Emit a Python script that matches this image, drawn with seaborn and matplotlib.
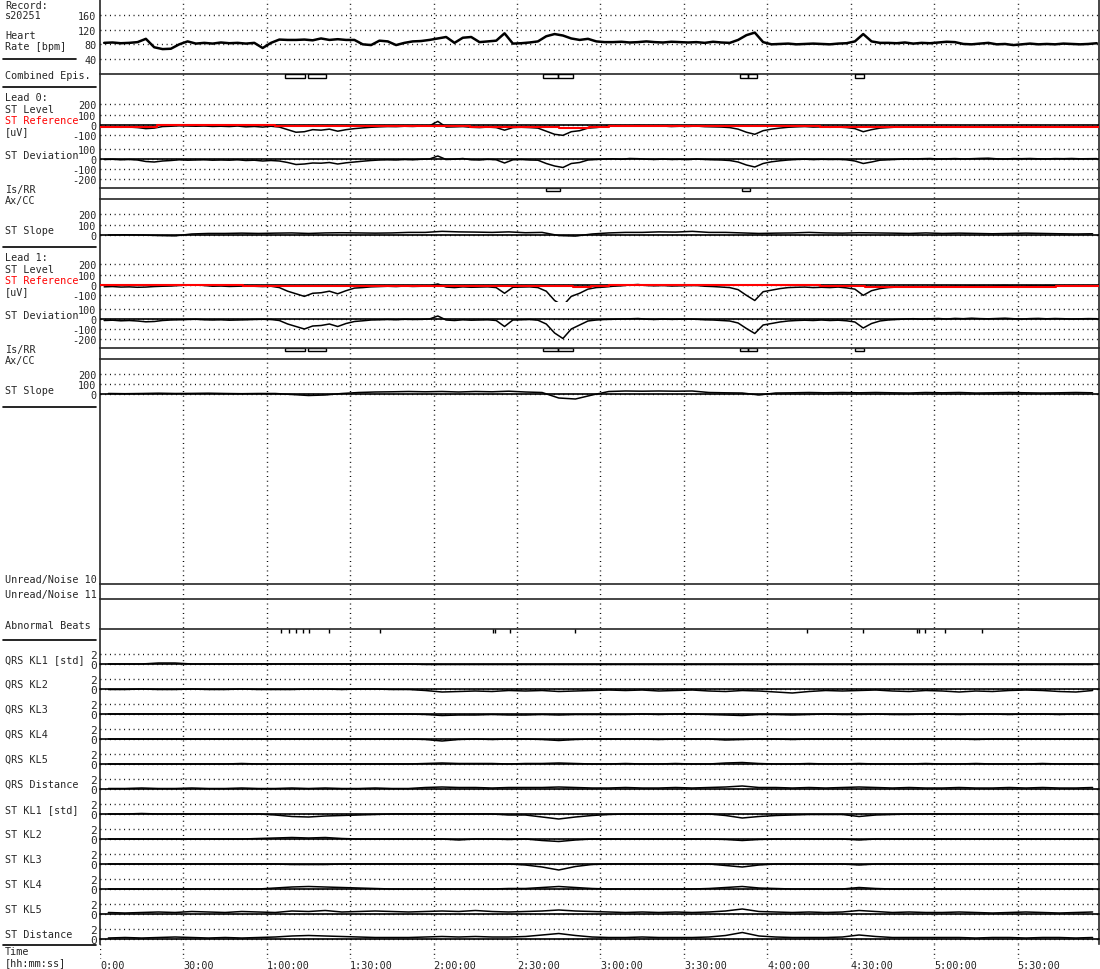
#importing the necessary libraries
import numpy as np
import matplotlib.pyplot as plt
import seaborn as sns

sns.set_style("white")
plt.rcParams['font.family'] = ['DejaVu Sans Mono']
plt.rcParams['font.size'] = 7.3

W, H = 1100, 970
T_END = 359.3   # minutes shown on the time axis
DOT = (0, (0.7, 2.7))

#time axis
time_ticks = [0, 30, 60, 90, 120, 150, 180, 210, 240, 270, 300, 330]
time_labels = ['0:00', '30:00', '1:00:00', '1:30:00', '2:00:00', '2:30:00',
               '3:00:00', '3:30:00', '4:00:00', '4:30:00', '5:00:00', '5:30:00']

#heart rate [bpm], one value every 3 minutes
heart_rate = [84, 85, 83, 84, 86, 95, 72, 67, 68, 80,
              88, 82, 84, 82, 85, 83, 84, 82, 84, 70,
              84, 93, 92, 92, 93, 91, 96, 92, 94, 92,
              92, 80, 78, 90, 88, 78, 84, 88, 89, 92,
              96, 100, 84, 98, 100, 86, 88, 90, 110, 82,
              83, 85, 88, 102, 108, 104, 96, 92, 95, 88,
              86, 86, 87, 85, 86, 88, 86, 85, 87, 86,
              85, 86, 84, 87, 85, 84, 92, 105, 112, 86,
              80, 81, 82, 80, 81, 82, 81, 80, 82, 83,
              88, 108, 88, 84, 84, 83, 85, 82, 84, 83,
              85, 87, 86, 81, 80, 82, 84, 80, 81, 78,
              80, 82, 80, 81, 80, 82, 81, 80, 81, 83]

#episodes [minutes]
epis_start = [66.5, 74.7, 159.5, 164.9, 230.3, 233.2, 271.6]
epis_end = [73.7, 81.2, 164.9, 170.0, 233.2, 236.4, 274.9]
lead0_isrr_start = [160.3, 231.0]
lead0_isrr_end = [165.3, 233.6]
lead1_isrr_start = [66.5, 74.7, 159.5, 164.9, 230.3, 233.2, 271.6]
lead1_isrr_end = [73.7, 81.2, 164.9, 170.0, 233.2, 236.4, 274.9]

#lead 0 [uV], every 3 minutes
lead0_level = [-20, -18, -22, -20, -25, -35, -30, -15, -12, -8,
               -10, -12, -10, -14, -12, -15, -10, -18, -14, -20,
               -12, -20, -45, -70, -65, -45, -50, -40, -60, -45,
               -35, -28, -22, -18, -15, -16, -12, -14, -10, -8,
               35, -20, -18, -15, -22, -25, -20, -25, -50, -25,
               -22, -25, -30, -60, -90, -100, -65, -55, -30, -25,
               -15, -10, -12, -8, -5, -10, -12, -10, -15, -12,
               -14, -10, -16, -18, -20, -25, -40, -70, -90, -55,
               -40, -30, -22, -18, -15, -20, -18, -22, -20, -25,
               -35, -65, -45, -30, -25, -20, -18, -20, -16, -18,
               -22, -18, -20, -17, -19, -21, -18, -16, -20, -22,
               -18, -20, -19, -17, -21, -20, -18, -22, -19, -20]
lead0_ref_t = [0, 20.6, 63, 82, 115, 133, 158, 165, 176, 183, 229, 259, 290, 340, 359.3]
lead0_ref = [-15, -3, -10, -12, -5, -18, -15, -25, -20, -8, -14, -18, -16, -22, -22]
lead0_dev = [-5, -3, -8, -5, -10, -25, -30, -20, -15, -8,
             -12, -10, -8, -12, -10, -12, -8, -15, -12, -20,
             -15, -20, -35, -55, -50, -40, -42, -35, -50, -38,
             -30, -22, -15, -10, -8, -10, -5, -8, -3, 0,
             30, -5, -2, 5, -8, -10, -3, -8, -40, -8,
             -5, -10, -12, -45, -70, -85, -45, -35, -10, -5,
             0, 2, -3, 5, 3, -2, -5, 0, -5, -3,
             -6, 0, -5, -8, -10, -15, -30, -60, -80, -45,
             -28, -18, -10, -5, -2, -6, -3, -5, -4, -8,
             -20, -45, -30, -12, -8, -4, 2, 0, 3, 5,
             0, 2, 4, 1, 3, 6, 8, 2, 0, 4,
             3, 5, 2, 1, 4, 3, 5, 2, 3, 4]
#every 6 minutes
lead0_slope = [0, 2, 0, -5, -8, 10, 15, 15, 18, 15,
               18, 20, 15, 20, 22, 20, 18, 20, 25, 25,
               35, 30, 28, 25, 30, 22, 25, -5, -10, 10,
               20, 25, 25, 30, 28, 35, 25, 25, 20, 15,
               18, 20, 25, 20, 18, 22, 20, 18, 15, 20,
               15, 18, 15, 12, 15, 18, 15, 12, 10, 12]

#lead 1 [uV], every 3 minutes
lead1_level = [-18, -15, -20, -18, -22, -20, -15, -12, -10, -5,
               0, 2, -5, -12, -10, -14, -12, -10, -12, -15,
               -12, -25, -60, -85, -110, -80, -75, -60, -85, -55,
               -30, -25, -18, -15, -12, -15, -10, -14, -12, -8,
               10, -20, -25, -18, -22, -20, -18, -25, -80, -22,
               -20, -18, -25, -60, -150, -200, -110, -80, -40, -25,
               -20, -12, -8, 0, 5, -5, -8, -5, -10, -8,
               -6, -5, -12, -15, -20, -25, -45, -100, -150, -65,
               -50, -35, -25, -22, -20, -25, -22, -25, -20, -28,
               -40, -100, -55, -35, -25, -20, -18, -15, -20, -16,
               -12, -15, -10, -12, -8, -10, -12, -8, -5, -10,
               -12, -8, -10, -6, -8, -12, -10, -8, -12, -10]
lead1_ref_t = [0, 28.6, 36.7, 51.6, 87, 119, 156, 170, 176.5, 183, 259, 275, 344, 359.3]
lead1_ref = [-3, 3, -2, -13, -8, -10, -13, -22, -13, -3, -8, -15, -8, -8]
lead1_dev = [-15, -12, -18, -15, -20, -28, -25, -15, -10, -8,
             -5, -3, -8, -10, -8, -12, -10, -8, -5, -3,
             -5, -15, -50, -75, -100, -70, -65, -50, -75, -45,
             -25, -18, -10, -8, -5, -8, -3, -5, -4, 0,
             30, -10, -15, -8, -12, -10, -8, -15, -75, -10,
             -8, -5, -12, -50, -140, -195, -100, -60, -20, -10,
             -5, -3, 0, 2, 5, -2, -5, 0, -4, -2,
             0, -3, -8, -10, -15, -20, -40, -95, -145, -60,
             -45, -30, -20, -15, -12, -15, -10, -15, -12, -18,
             -30, -90, -45, -20, -10, -5, 0, 3, -2, 2,
             5, 0, 6, 3, 8, 4, 2, 5, 8, 3,
             0, 4, 6, 2, 5, 3, 0, 2, 4, 3]
lead1_slope = [5, 3, 5, 8, 5, 6, 8, 5, 3, 5,
               5, -5, -15, -10, 5, 15, 20, 22, 25, 22,
               25, 20, 25, 22, 28, 20, 15, -40, -50, -10,
               25, 30, 28, 30, 28, 30, 15, 12, 10, -10,
               10, 12, 15, 12, 15, 12, 15, 12, 10, 15,
               12, 15, 10, 12, 15, 12, 10, 12, 15, 12]

#abnormal beats [minutes]
abnormal_beats = [65.0, 67.9, 70.4, 72.9, 75.1, 82.3, 100.6, 141.2, 141.9, 147.3,
                  171.0, 254.4, 274.5, 293.9, 294.6, 296.8, 304.0, 317.3]

#KL coefficients, every 6 minutes
kl_names = ['QRS KL1 [std]', 'QRS KL2', 'QRS KL3', 'QRS KL4', 'QRS KL5', 'QRS Distance',
            'ST KL1 [std]', 'ST KL2', 'ST KL3', 'ST KL4', 'ST KL5', 'ST Distance']
qrs_kl1 = [0, 0, 0, 0.2, 0.2, 0, 0, 0, 0, 0,
           0, 0, 0, 0, 0, 0, 0, 0, 0, -0.1,
           -0.1, -0.1, -0.1, -0.1, -0.1, -0.1, -0.1, -0.1, -0.1, -0.1,
           -0.1, -0.1, -0.1, -0.1, -0.1, -0.1, -0.1, -0.1, -0.1, -0.1,
           -0.1, -0.1, -0.1, -0.1, -0.1, -0.1, -0.1, -0.1, -0.1, -0.1,
           -0.1, -0.1, -0.1, -0.1, -0.1, -0.1, -0.1, -0.1, -0.1, -0.1]
qrs_kl2 = [-0.1, -0.1, 0, -0.1, -0.1, 0, -0.1, -0.1, 0, -0.1,
           -0.1, -0.1, 0, 0, -0.1, 0, 0, -0.1, -0.1, -0.3,
           -0.6, -0.5, -0.4, -0.5, -0.3, -0.4, -0.3, -0.5, -0.4, -0.3,
           -0.2, -0.3, -0.2, -0.4, -0.3, -0.2, -0.4, -0.5, -0.3, -0.4,
           -0.6, -0.8, -0.5, -0.3, -0.4, -0.3, -0.2, -0.4, -0.5, -0.3,
           -0.4, -0.6, -0.4, -0.5, -0.3, -0.2, -0.3, -0.5, -0.6, -0.3]
qrs_kl3 = [0, 0, 0, 0, 0, 0, 0, 0, 0, 0,
           0, 0, 0, 0, 0, 0, 0, 0, 0, -0.1,
           -0.3, -0.2, -0.2, -0.1, -0.2, -0.2, -0.1, -0.2, -0.1, -0.1,
           -0.1, -0.1, 0, -0.1, 0, 0, -0.1, -0.2, -0.3, -0.1,
           -0.1, -0.2, -0.1, 0, -0.1, -0.1, 0, -0.1, -0.1, 0,
           0, -0.1, 0, 0, -0.1, 0, 0, -0.1, 0, 0]
qrs_kl4 = [0, 0, 0, 0, 0, 0, 0, 0, 0, 0,
           0, 0, 0, 0, 0, 0, 0, 0, 0, -0.1,
           -0.4, -0.1, 0, -0.1, 0, 0, -0.1, -0.3, -0.1, 0,
           0, 0, 0, -0.1, 0, 0, 0, -0.2, -0.1, 0,
           0, -0.1, 0, 0, 0, 0, 0, 0, 0, 0,
           0, 0, -0.1, 0, 0, 0, 0, 0, 0, 0]
qrs_kl5 = [0, 0, 0, 0, 0, 0, 0, 0, 0.1, 0,
           0, 0, 0, 0, 0, 0, 0, 0, 0, 0.1,
           0.2, 0.1, 0.1, 0.1, 0, 0.1, 0.1, 0.2, 0.1, 0,
           0, 0.1, 0, 0, 0.1, 0, 0, 0.2, 0.3, 0.1,
           0, 0, 0.1, 0, 0, 0.1, 0, 0, 0, 0.1,
           0, 0, 0.1, 0, 0, 0, 0.1, 0, 0, 0]
qrs_dist = [0.1, 0.1, 0.2, 0.1, 0.1, 0.2, 0.1, 0.1, 0.2, 0.1,
            0.1, 0.2, 0.1, 0.2, 0.1, 0.1, 0.2, 0.1, 0.1, 0.3,
            0.4, 0.3, 0.3, 0.2, 0.3, 0.3, 0.3, 0.4, 0.3, 0.2,
            0.2, 0.3, 0.2, 0.2, 0.3, 0.2, 0.3, 0.4, 0.6, 0.3,
            0.3, 0.2, 0.3, 0.2, 0.3, 0.4, 0.3, 0.2, 0.3, 0.2,
            0.2, 0.3, 0.2, 0.2, 0.3, 0.2, 0.3, 0.2, 0.2, 0.3]
st_kl1 = [0, 0, 0.1, 0, 0, 0, 0, 0, 0, 0,
          -0.2, -0.5, -0.6, -0.4, -0.3, -0.2, -0.1, 0, 0, 0,
          0, 0, 0, 0, -0.2, -0.2, -0.6, -1.0, -0.6, -0.3,
          -0.1, 0, 0, 0, 0, 0, 0, -0.3, -0.8, -0.5,
          -0.3, -0.2, -0.1, -0.1, -0.1, -0.5, -0.2, -0.1, 0, 0,
          0, 0, 0, 0, 0, 0, 0, 0, 0, 0]
st_kl2 = [0, 0, 0, 0, 0, 0, 0, 0, 0, 0.1,
          0.2, 0.3, 0.2, 0.3, 0.1, 0, 0, 0, 0, 0,
          0, -0.2, 0, 0, -0.1, 0, -0.3, -0.5, -0.2, 0,
          0, 0, 0, 0, 0, 0, 0, -0.1, -0.3, -0.1,
          0, 0, 0, 0, 0, -0.2, 0, 0, 0, 0,
          0, 0, 0, 0, 0, 0, 0, 0, 0, 0]
st_kl3 = [0, 0, 0, 0, 0, 0, 0, 0, 0, 0,
          0, -0.1, -0.1, -0.1, 0, 0, 0, 0, 0, 0,
          0, 0, 0, 0, 0, -0.2, -0.6, -1.2, -0.5, -0.1,
          0, 0, 0, 0, 0, 0, 0, -0.3, -0.6, -0.2,
          0, 0, 0, 0, 0, -0.2, 0, 0, 0, 0,
          0, 0, 0, 0, 0, 0, 0, 0, 0, 0]
st_kl4 = [0, 0, 0, 0, 0, 0, 0, 0, 0, 0,
          0.2, 0.4, 0.5, 0.4, 0.3, 0.2, 0.1, 0, 0, 0,
          0, 0, 0, 0, 0.1, 0.1, 0.3, 0.5, 0.3, 0.1,
          0, 0, 0, 0, 0, 0, 0.1, 0.3, 0.5, 0.2,
          0.1, 0, 0, 0, 0, 0.3, 0.1, 0, 0, 0,
          0, 0, 0, 0, 0, 0, 0, 0, 0, 0]
st_kl5 = [0.3, 0.2, 0.3, 0.4, 0.3, 0.5, 0.4, 0.3, 0.5, 0.4,
          0.3, 0.6, 0.5, 0.7, 0.4, 0.5, 0.6, 0.5, 0.4, 0.5,
          0.6, 0.5, 0.7, 0.5, 0.4, 0.5, 0.6, 0.8, 0.6, 0.5,
          0.4, 0.3, 0.4, 0.3, 0.4, 0.3, 0.4, 0.6, 1.0, 0.5,
          0.4, 0.3, 0.4, 0.3, 0.4, 0.7, 0.5, 0.3, 0.4, 0.3,
          0.3, 0.4, 0.3, 0.2, 0.3, 0.4, 0.3, 0.2, 0.3, 0.4]
st_dist = [0.2, 0.3, 0.2, 0.3, 0.4, 0.3, 0.2, 0.3, 0.2, 0.3,
           0.4, 0.6, 0.7, 0.6, 0.5, 0.4, 0.3, 0.3, 0.3, 0.4,
           0.5, 0.4, 0.5, 0.4, 0.4, 0.5, 0.8, 1.1, 0.7, 0.4,
           0.3, 0.3, 0.4, 0.3, 0.3, 0.3, 0.4, 0.7, 1.3, 0.6,
           0.4, 0.3, 0.3, 0.3, 0.4, 0.8, 0.5, 0.3, 0.3, 0.3,
           0.3, 0.3, 0.2, 0.3, 0.3, 0.2, 0.3, 0.3, 0.2, 0.3]
kl_series = [qrs_kl1, qrs_kl2, qrs_kl3, qrs_kl4, qrs_kl5, qrs_dist,
             st_kl1, st_kl2, st_kl3, st_kl4, st_kl5, st_dist]


fig = plt.figure(figsize=(W / 100, H / 100), dpi=100)


def panel(top, bottom, ylim, spines=()):
    # axes placed by pixel rows of the page
    ax = fig.add_axes([100 / W, 1 - bottom / H, 999 / W, (bottom - top) / H])
    ax.set_facecolor('none')
    ax.set_xlim(0, T_END)
    ax.set_ylim(*ylim)
    for s in ax.spines:
        ax.spines[s].set_visible(s in spines)
        ax.spines[s].set_linewidth(1.2)
    ax.set_xticks([])
    ax.set_yticks([])
    return ax


def yticks(ax, ticks, zero=True):
    ax.set_yticks(ticks)
    ax.set_yticklabels([str(t) for t in ticks])
    ax.tick_params(axis='y', length=0, pad=2.5, labelsize=7.3)
    ax.yaxis.grid(True, linestyle=DOT, color='black', linewidth=1)
    if zero:
        ax.axhline(0, color='black', linewidth=1.2, zorder=1)


def trace(ax, values, step, color='black', lw=1.1):
    # each value stands for the middle of its sampling interval
    t = (np.arange(len(values)) + 0.5) * step
    sns.lineplot(x=t, y=values, ax=ax, color=color, linewidth=lw, estimator=None)


def episodes(ax, start, end, depth):
    ax.bar(start, depth, width=np.array(end) - np.array(start), bottom=-depth,
           align='edge', fill=False, edgecolor='black', linewidth=1)


#background with the vertical dotted grid and frame
bg = fig.add_axes([100 / W, 1 - 945 / H, 999 / W, 945 / H])
bg.set_xlim(0, T_END)
bg.set_xticks(time_ticks[1:])
bg.set_xticklabels([])
bg.set_yticks([])
bg.tick_params(axis='x', length=0)
bg.xaxis.grid(True, linestyle=DOT, color='black', linewidth=1)
bg.spines['bottom'].set_visible(False)
for s in ['left', 'right', 'top']:
    bg.spines[s].set_linewidth(1.2)

#heart rate
ax = panel(0, 75, (-0.9, 203.6), spines=('bottom',))
yticks(ax, [160, 120, 80, 40], zero=False)
trace(ax, heart_rate, 3, lw=1.8)

#combined episodes
ax = panel(75, 88, (-13, 0))
episodes(ax, epis_start, epis_end, 4)

#lead 0
ax = panel(88, 143, (-164.5, 367.7))
yticks(ax, [200, 100, 0, -100])
trace(ax, lead0_level, 3)
ax.step(lead0_ref_t, lead0_ref, where='post', color='red', linewidth=1.5, zorder=3)
ax = panel(143, 189, (-290, 170))
yticks(ax, [100, 0, -100, -200])
trace(ax, lead0_dev, 3)
ax = panel(189, 200, (-11, 0), spines=('top', 'bottom'))
episodes(ax, lead0_isrr_start, lead0_isrr_end, 3)
ax = panel(200, 248, (-114, 343))
yticks(ax, [200, 100, 0])
trace(ax, lead0_slope, 6)

#lead 1
ax = panel(248, 303, (-164.5, 367.7))
yticks(ax, [200, 100, 0, -100])
trace(ax, lead1_level, 3)
ax.step(lead1_ref_t, lead1_ref, where='post', color='red', linewidth=1.5, zorder=3)
ax = panel(303, 349, (-290, 170))
yticks(ax, [100, 0, -100, -200])
trace(ax, lead1_dev, 3)
ax = panel(349, 360, (-11, 0), spines=('top', 'bottom'))
episodes(ax, lead1_isrr_start, lead1_isrr_end, 3)
ax = panel(360, 408, (-130, 350))
yticks(ax, [200, 100, 0])
trace(ax, lead1_slope, 6)

#noise rows and abnormal beats
panel(585, 600, (0, 1), spines=('top', 'bottom'))
panel(600, 630, (0, 1), spines=('bottom',))
ax = panel(630, 645, (-15, 0))
ax.vlines(abnormal_beats, -4, 0, color='black', linewidth=1)

#KL coefficients
for i, vals in enumerate(kl_series):
    zero_y = 665 + 25 * i
    ax = panel(zero_y - 20, zero_y + 5, (-1, 4))
    yticks(ax, [2, 0])
    ax.tick_params(axis='y', labelsize=8)
    trace(ax, vals, 6)
    for ln in ax.lines:
        ln.set_clip_on(False)
    fig.text(5 / W, 1 - (zero_y - 5) / H, kl_names[i], va='center', ha='left')

#time row
ax = panel(945, 960, (0, 1))
ax.set_xticks(time_ticks)
ax.set_xticklabels(time_labels, ha='left')
ax.tick_params(axis='x', length=0, pad=1, labelsize=7.3)
ax.xaxis.grid(True, linestyle=DOT, color='black', linewidth=1)

#labels on the left
labels = [(6, 'Record:'), (16, 's20251'), (36, 'Heart'), (47, 'Rate [bpm]'),
          (76, 'Combined Epis.'),
          (98, 'Lead 0:'), (110, 'ST Level'), (132, '[uV]'), (156, 'ST Deviation'),
          (190, 'Is/RR'), (201, 'Ax/CC'), (231, 'ST Slope'),
          (258, 'Lead 1:'), (270, 'ST Level'), (292, '[uV]'), (316, 'ST Deviation'),
          (350, 'Is/RR'), (361, 'Ax/CC'), (391, 'ST Slope'),
          (580, 'Unread/Noise 10'), (595, 'Unread/Noise 11'), (626, 'Abnormal Beats'),
          (952, 'Time'), (963, '[hh:mm:ss]')]
for y, s in labels:
    fig.text(5 / W, 1 - y / H, s, va='center', ha='left')
for y in [121, 281]:
    fig.text(5 / W, 1 - y / H, 'ST Reference', va='center', ha='left', color='red')

#separators on the left
for y, x1 in [(60, 76), (88, 96), (248, 96), (408, 96), (641, 96), (946, 96)]:
    fig.add_artist(plt.Line2D([3 / W, x1 / W], [1 - y / H, 1 - y / H],
                              color='black', linewidth=1.2))

plt.savefig('out.png', dpi=100)
